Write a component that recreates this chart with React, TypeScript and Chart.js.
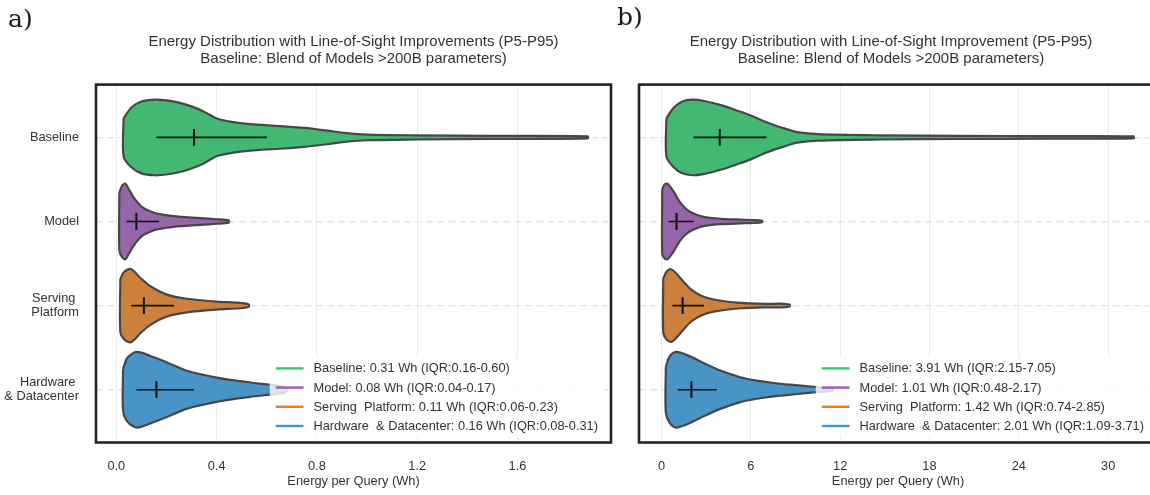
import React, { useEffect, useRef } from 'react';
import { Chart, registerables } from 'chart.js';

Chart.register(...registerables);

// ---------- shared categories / labels ----------
const CATEGORY_TICK_LABELS: (string | string[])[] = ['Baseline', 'Model', ['Serving ', 'Platform'], ['Hardware ', '& Datacenter']];
const LEGEND_NAMES = ['Baseline', 'Model', 'Serving  Platform', 'Hardware  & Datacenter'];
const CATEGORY_POS = [0, 1, 2, 3];
const X_TITLE = 'Energy per Query (Wh)';

// ---------- panel a ----------
const A_TITLE = ['Energy Distribution with Line-of-Sight Improvements (P5-P95)', 'Baseline: Blend of Models >200B parameters)'];
const A_MEDIANS = [0.31, 0.08, 0.11, 0.16];
const A_Q1 = [0.16, 0.04, 0.06, 0.08];
const A_Q3 = [0.6, 0.17, 0.23, 0.31];
const A_TICKS = [0, 0.4, 0.8, 1.2, 1.6];
const A_TICK_LABELS = ['0.0', '0.4', '0.8', '1.2', '1.6'];

const A_BASELINE_X = [0.029, 0.06, 0.1, 0.155, 0.2, 0.25, 0.3, 0.35, 0.4, 0.46, 0.534, 0.65, 0.75, 0.84, 0.91, 1.0, 1.2, 1.5, 1.88];
const A_BASELINE_D = [0.5, 0.79, 0.95, 1.0, 0.98, 0.92, 0.82, 0.68, 0.5, 0.41, 0.35, 0.3, 0.25, 0.18, 0.12, 0.075, 0.055, 0.04, 0.028];
const A_MODEL_X = [0.012, 0.022, 0.036, 0.05, 0.069, 0.09, 0.109, 0.135, 0.162, 0.228, 0.335, 0.4, 0.448];
const A_MODEL_D = [0.75, 0.93, 1.0, 0.85, 0.64, 0.46, 0.35, 0.27, 0.21, 0.14, 0.09, 0.06, 0.03];
const A_SERVING_X = [0.016, 0.03, 0.056, 0.075, 0.096, 0.136, 0.202, 0.282, 0.4, 0.494, 0.528];
const A_SERVING_D = [0.7, 0.88, 0.97, 0.88, 0.73, 0.51, 0.29, 0.18, 0.105, 0.07, 0.03];
const A_HARDWARE_X = [0.027, 0.045, 0.082, 0.136, 0.202, 0.282, 0.4, 0.534, 0.614, 0.66, 0.68];
const A_HARDWARE_D = [0.55, 0.85, 1.0, 0.89, 0.72, 0.5, 0.32, 0.19, 0.13, 0.09, 0.03];

// ---------- panel b ----------
const B_TITLE = ['Energy Distribution with Line-of-Sight Improvement (P5-P95)', 'Baseline: Blend of Models >200B parameters)'];
const B_MEDIANS = [3.91, 1.01, 1.42, 2.01];
const B_Q1 = [2.15, 0.48, 0.74, 1.09];
const B_Q3 = [7.05, 2.17, 2.85, 3.71];
const B_TICKS = [0, 6, 12, 18, 24, 30];
const B_TICK_LABELS = ['0', '6', '12', '18', '24', '30'];

const B_BASELINE_X = [0.33, 0.8, 1.4, 2.07, 2.8, 4.1, 5.0, 6.0, 6.8, 7.67, 8.4, 9.1, 10.5, 14.8, 20, 26, 31.7];
const B_BASELINE_D = [0.5, 0.78, 0.95, 1.0, 0.97, 0.84, 0.72, 0.58, 0.44, 0.31, 0.22, 0.14, 0.085, 0.055, 0.042, 0.033, 0.025];
const B_MODEL_X = [0.05, 0.2, 0.4, 0.8, 1.24, 1.6, 1.95, 2.4, 2.9, 4.0, 5.3, 6.2, 6.76];
const B_MODEL_D = [0.85, 0.97, 1.0, 0.8, 0.51, 0.35, 0.25, 0.17, 0.115, 0.07, 0.05, 0.04, 0.02];
const B_SERVING_X = [0.12, 0.35, 0.64, 1.0, 1.48, 2.0, 2.67, 3.5, 5.3, 7.0, 8.0, 8.6];
const B_SERVING_D = [0.72, 0.9, 0.96, 0.85, 0.63, 0.42, 0.26, 0.16, 0.07, 0.045, 0.05, 0.025];
const B_HARDWARE_X = [0.29, 0.55, 1.0, 1.8, 2.9, 4.0, 5.3, 6.4, 7.67, 9.0, 10.05, 11.0, 11.5];
const B_HARDWARE_D = [0.6, 0.88, 1.0, 0.9, 0.69, 0.5, 0.33, 0.24, 0.17, 0.12, 0.08, 0.05, 0.02];

// ---------- styles ----------
const FILL_COLORS = ['#42b873', '#9665aa', '#cd803b', '#4994c6'];
const LINE_COLORS = ['#2ecc71', '#9b59b6', '#e67e22', '#3498db'];
const FONT = '"Liberation Sans", Arial, Helvetica, sans-serif';
const TEXT = '#333333';
const HALF = 0.45;

type Panel = {
  title: string[];
  medians: number[];
  q1: number[];
  q3: number[];
  xs: number[][];
  ds: number[][];
  ticks: number[];
  tickLabels: string[];
  xMin: number;
  xMax: number;
  yWidth: number;
  padRight: number;
  titleFull: boolean;
  showY: boolean;
};

function violinPoints(xs: number[], ds: number[], cat: number) {
  const up = xs.map((x, i) => ({ x, y: cat - HALF * ds[i] }));
  const down = xs.map((x, i) => ({ x, y: cat + HALF * ds[i] })).reverse();
  return [...up, ...down, up[0]];
}

const framePlugin = {
  id: 'frame',
  afterDraw(chart: any) {
    const { ctx, chartArea: a } = chart;
    ctx.save();
    ctx.strokeStyle = '#232323';
    ctx.lineWidth = 2.6;
    ctx.strokeRect(a.left, a.top, a.right - a.left, a.bottom - a.top);
    ctx.restore();
  },
};

const legendPlugin = {
  id: 'violinLegend',
  afterDatasetsDraw(chart: any, _args: any, opts: any) {
    const items: { label: string; color: string }[] = opts.items || [];
    if (!items.length) return;
    const { ctx, chartArea: a } = chart;
    ctx.save();
    ctx.font = `12.8px ${FONT}`;
    const maxW = Math.max(...items.map((it) => ctx.measureText(it.label).width));
    const textX = a.right - 13 - maxW;
    const lineX1 = textX - 37.7;
    const lineX2 = textX - 10;
    const spacing = 19.2;
    const lastY = a.bottom - 16.5;
    const firstY = lastY - spacing * (items.length - 1);
    const bx = lineX1 - 6;
    const by = firstY - 12;
    const bw = a.right - 6 - bx;
    const bh = lastY + 11 - by;
    ctx.fillStyle = 'rgba(255,255,255,0.8)';
    ctx.beginPath();
    const r = 3;
    ctx.moveTo(bx + r, by);
    ctx.lineTo(bx + bw - r, by);
    ctx.quadraticCurveTo(bx + bw, by, bx + bw, by + r);
    ctx.lineTo(bx + bw, by + bh - r);
    ctx.quadraticCurveTo(bx + bw, by + bh, bx + bw - r, by + bh);
    ctx.lineTo(bx + r, by + bh);
    ctx.quadraticCurveTo(bx, by + bh, bx, by + bh - r);
    ctx.lineTo(bx, by + r);
    ctx.quadraticCurveTo(bx, by, bx + r, by);
    ctx.fill();
    items.forEach((it, i) => {
      const y = firstY + i * spacing;
      ctx.strokeStyle = it.color;
      ctx.lineWidth = 2.4;
      ctx.beginPath();
      ctx.moveTo(lineX1, y);
      ctx.lineTo(lineX2, y);
      ctx.stroke();
      ctx.fillStyle = TEXT;
      ctx.textBaseline = 'middle';
      ctx.textAlign = 'left';
      ctx.fillText(it.label, textX, y + 0.5);
    });
    ctx.restore();
  },
};

function buildConfig(p: Panel): any {
  const datasets: any[] = [];
  CATEGORY_POS.forEach((cat, i) => {
    datasets.push({
      data: violinPoints(p.xs[i], p.ds[i], cat),
      showLine: true,
      fill: 'shape',
      backgroundColor: FILL_COLORS[i],
      borderColor: '#474747',
      borderWidth: 2.2,
      borderJoinStyle: 'round',
      pointRadius: 0,
      tension: 0.3,
      order: 2,
    });
    datasets.push({
      data: [
        { x: p.q1[i], y: cat },
        { x: p.q3[i], y: cat },
      ],
      showLine: true,
      fill: false,
      borderColor: '#111111',
      borderWidth: 1.6,
      pointRadius: 0,
      order: 1,
    });
    datasets.push({
      data: [
        { x: p.medians[i], y: cat - 0.1 },
        { x: p.medians[i], y: cat + 0.1 },
      ],
      showLine: true,
      fill: false,
      borderColor: '#111111',
      borderWidth: 2,
      pointRadius: 0,
      order: 0,
    });
  });

  const legendItems = LEGEND_NAMES.map((n, i) => ({
    label: `${n}: ${p.medians[i].toFixed(2)} Wh (IQR:${p.q1[i].toFixed(2)}-${p.q3[i].toFixed(2)})`,
    color: LINE_COLORS[i],
  }));

  return {
    type: 'scatter',
    data: { datasets },
    plugins: [legendPlugin, framePlugin],
    options: {
      animation: false,
      responsive: false,
      maintainAspectRatio: false,
      events: [],
      layout: { padding: { left: 0, right: p.padRight, top: 0, bottom: 0 } },
      plugins: {
        legend: { display: false },
        tooltip: { enabled: false },
        violinLegend: { items: legendItems },
        title: {
          display: true,
          text: p.title,
          fullSize: p.titleFull,
          color: TEXT,
          font: { family: FONT, size: 15, weight: 'normal', lineHeight: 1.07 },
          padding: { top: 34.3, bottom: 18.2 },
        },
      },
      scales: {
        x: {
          type: 'linear',
          min: p.xMin,
          max: p.xMax,
          afterBuildTicks: (s: any) => {
            s.ticks = p.ticks.map((v) => ({ value: v }));
          },
          afterFit: (s: any) => {
            s.height = 52.5;
          },
          ticks: {
            autoSkip: false,
            maxRotation: 0,
            padding: 15.8,
            color: TEXT,
            font: { family: FONT, size: 12.8 },
            callback: (_v: any, idx: number) => p.tickLabels[idx],
          },
          grid: { color: '#ebebeb', lineWidth: 1, drawTicks: false },
          border: { display: false },
          title: {
            display: true,
            text: X_TITLE,
            color: TEXT,
            font: { family: FONT, size: 12.8 },
            padding: { top: 0, bottom: 5.6 },
          },
        },
        y: {
          type: 'linear',
          min: -0.628,
          max: 3.628,
          reverse: true,
          afterBuildTicks: (s: any) => {
            s.ticks = CATEGORY_POS.map((v) => ({ value: v }));
          },
          afterFit: (s: any) => {
            s.width = p.yWidth;
          },
          ticks: {
            display: p.showY,
            autoSkip: false,
            padding: 17,
            color: TEXT,
            font: { family: FONT, size: 12.8, lineHeight: 1.05 },
            callback: (_v: any, idx: number) => CATEGORY_TICK_LABELS[idx],
          },
          grid: { color: '#e2e2e2', lineWidth: 1.2, drawTicks: false },
          border: { display: false, dash: [7, 4] },
        },
      },
    },
  };
}

const PANEL_A: Panel = {
  title: A_TITLE,
  medians: A_MEDIANS,
  q1: A_Q1,
  q3: A_Q3,
  xs: [A_BASELINE_X, A_MODEL_X, A_SERVING_X, A_HARDWARE_X],
  ds: [A_BASELINE_D, A_MODEL_D, A_SERVING_D, A_HARDWARE_D],
  ticks: A_TICKS,
  tickLabels: A_TICK_LABELS,
  xMin: -0.081,
  xMax: 1.973,
  yWidth: 96,
  padRight: 14,
  titleFull: false,
  showY: true,
};

const PANEL_B: Panel = {
  title: B_TITLE,
  medians: B_MEDIANS,
  q1: B_Q1,
  q3: B_Q3,
  xs: [B_BASELINE_X, B_MODEL_X, B_SERVING_X, B_HARDWARE_X],
  ds: [B_BASELINE_D, B_MODEL_D, B_SERVING_D, B_HARDWARE_D],
  ticks: B_TICKS,
  tickLabels: B_TICK_LABELS,
  xMin: -1.51,
  xMax: 33.28,
  yWidth: 14,
  padRight: 28,
  titleFull: true,
  showY: false,
};

export default function App() {
  const refA = useRef<HTMLCanvasElement>(null);
  const refB = useRef<HTMLCanvasElement>(null);

  useEffect(() => {
    const a = new Chart(refA.current as HTMLCanvasElement, buildConfig(PANEL_A));
    const b = new Chart(refB.current as HTMLCanvasElement, buildConfig(PANEL_B));
    return () => {
      a.destroy();
      b.destroy();
    };
  }, []);

  const panelLabel: React.CSSProperties = {
    position: 'absolute',
    fontFamily: '"DejaVu Serif", "Liberation Serif", serif',
    fontSize: 25,
    lineHeight: '25px',
    color: '#1a1a1a',
  };

  return (
    <div
      style={{
        position: 'fixed',
        left: 0,
        top: 0,
        width: 1150,
        height: 495,
        overflow: 'hidden',
        background: '#ffffff',
      }}
    >
      <canvas ref={refA} width={625} height={495} style={{ position: 'absolute', left: 0, top: 0, width: 625, height: 495 }} />
      <canvas ref={refB} width={560} height={495} style={{ position: 'absolute', left: 625, top: 0, width: 560, height: 495 }} />
      <div style={{ ...panelLabel, left: 8, top: 6 }}>a)</div>
      <div style={{ ...panelLabel, left: 617, top: 4 }}>b)</div>
    </div>
  );
}
